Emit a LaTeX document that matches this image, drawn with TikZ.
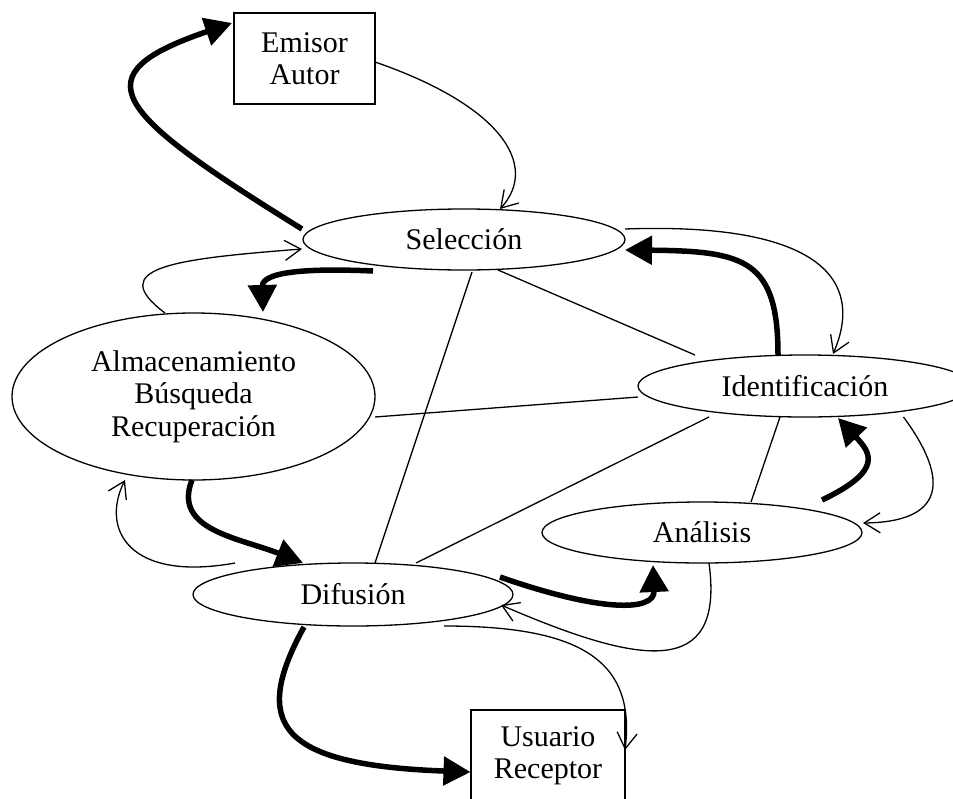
\documentclass[tikz,border=0pt]{standalone}
\usepackage{fontspec}
\setmainfont{Liberation Serif}
\usetikzlibrary{arrows.meta,shapes.geometric}
\begin{document}
\begin{tikzpicture}[x=1pt,y=-1pt,
  every node/.style={font=\fontsize{30}{32.5}\selectfont, align=center, inner sep=0pt, line width=1.3pt},
  elli/.style={draw, ellipse},
  boxnode/.style={draw, rectangle},
  thinarrow/.style={line width=1.3pt, -{Straight Barb[length=16pt,width=20pt]}},
  thickarrow/.style={line width=5.5pt, -{Triangle[length=27pt,width=28pt]}},
  link/.style={line width=1.3pt}]
\useasboundingbox (0,0) rectangle (953,798);
\fill[white] (0,0) rectangle (953,798);

\node[boxnode, minimum width=141pt, minimum height=91pt] (emi) at (304.5,58.5) {Emisor\\Autor};
\node[elli, minimum width=322pt, minimum height=61pt] (sel) at (464,239.5) {Selección};
\node[elli, minimum width=363pt, minimum height=167pt] (alm) at (193.5,396.5) {Almacenamiento\\Búsqueda\\Recuperación};
\node[elli, minimum width=334pt, minimum height=62pt] (ide) at (805,386) {Identificación};
\node[elli, minimum width=320pt, minimum height=61pt] (ana) at (702,532.5) {Análisis};
\node[elli, minimum width=320pt, minimum height=63pt] (dif) at (353,594.5) {Difusión};
\node[boxnode, minimum width=154pt, minimum height=92pt] (usu) at (548,756) {Usuario\\Receptor};

% Seleccion -> Emisor
\draw[thickarrow] ([shift={(-162,-10.5)}]sel.center) .. controls (110,110) and (80,75) .. ([shift={(-72.5,-35.5)}]emi.center);
% Emisor -> Seleccion
\draw[thinarrow] ([shift={(70.5,3.5)}]emi.center) .. controls (500,105) and (540,165) .. ([shift={(36,-30.5)}]sel.center);
% Almacenamiento -> Seleccion
\draw[thinarrow] ([shift={(-28.5,-83.5)}]alm.center) .. controls (105,268) and (172,259) .. ([shift={(-162,9.5)}]sel.center);
% Seleccion -> Almacenamiento
\draw[thickarrow] ([shift={(-91,31.5)}]sel.center) .. controls (305,268) and (262,272) .. ([shift={(69.5,-84.5)}]alm.center);
% Almacenamiento -> Difusion
\draw[thickarrow] ([shift={(-1.5,83.5)}]alm.center) .. controls (172,530) and (240,538) .. ([shift={(-50,-31.5)}]dif.center);
% Difusion -> Almacenamiento
\draw[thinarrow] ([shift={(-118,-31.5)}]dif.center) .. controls (130,582) and (100,530) .. ([shift={(-68.5,83.5)}]alm.center);
% straight links
\draw[link] ([shift={(8,32.5)}]sel.center) -- ([shift={(22,-31.5)}]dif.center);
\draw[link] ([shift={(34,30.5)}]sel.center) -- ([shift={(-110,-31)}]ide.center);
\draw[link] ([shift={(181.5,20.5)}]alm.center) -- ([shift={(-167,11)}]ide.center);
\draw[link] ([shift={(63,-31.5)}]dif.center) -- ([shift={(-96,31)}]ide.center);
\draw[link] ([shift={(-25,31)}]ide.center) -- ([shift={(49,-30.5)}]ana.center);
% Analisis -> Identificacion
\draw[thickarrow] ([shift={(120,-32.5)}]ana.center) .. controls (885,470) and (870,452) .. ([shift={(33,32)}]ide.center);
% Identificacion -> Analisis
\draw[thinarrow] ([shift={(98.5,31)}]ide.center) .. controls (950,480) and (945,522) .. ([shift={(161,-9.5)}]ana.center);
% Identificacion -> Seleccion
\draw[thickarrow] ([shift={(-27,-31)}]ide.center) .. controls (778,260) and (745,251) .. ([shift={(161,10.5)}]sel.center);
% Seleccion -> Identificacion
\draw[thinarrow] ([shift={(161,-10.5)}]sel.center) .. controls (820,222) and (865,280) .. ([shift={(28,-32)}]ide.center);
% Difusion -> Analisis
\draw[thickarrow] ([shift={(147,-17.5)}]dif.center) .. controls (600,612) and (655,612) .. ([shift={(-49,32.5)}]ana.center);
% Analisis -> Difusion
\draw[thinarrow] ([shift={(7,30.5)}]ana.center) .. controls (725,680) and (640,665) .. ([shift={(148,10.5)}]dif.center);
% Difusion -> Usuario
\draw[thinarrow] ([shift={(91,31.5)}]dif.center) .. controls (580,626) and (636,660) .. ([shift={(77,-6)}]usu.center);
\draw[thickarrow] ([shift={(-49,32.5)}]dif.center) .. controls (250,725) and (280,765) .. ([shift={(-77.5,16)}]usu.center);
\end{tikzpicture}
\end{document}
